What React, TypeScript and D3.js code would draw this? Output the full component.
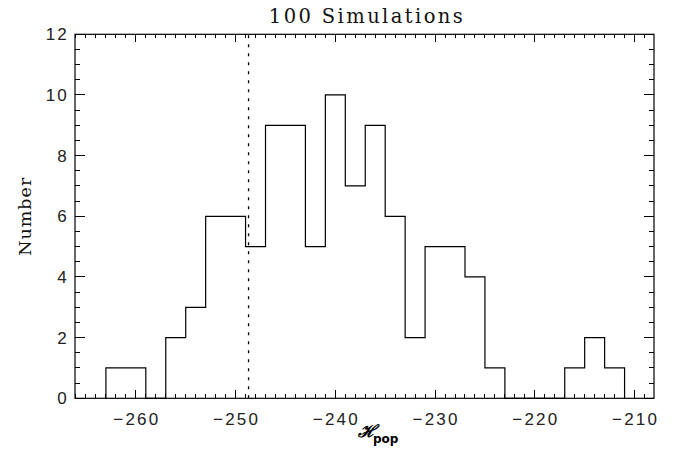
import React from "react";
import * as d3 from "d3";

const binStart = -263;
const binWidth = 2;
const counts = [1, 1, 0, 2, 3, 6, 6, 5, 9, 9, 5, 10, 7, 9, 6, 2, 5, 5, 4, 1, 0, 0, 0, 1, 2, 1];
const xMajorTicks = [-260, -250, -240, -230, -220, -210];
const yMajorTicks = [0, 2, 4, 6, 8, 10, 12];
const refValue = -248.7;
const title = "100 Simulations";
const yTitle = "Number";

const W = 683;
const H = 460;
const L = 75, R = 654, T = 34.3, B = 398.3;

export default function App() {
  const x = d3.scaleLinear().domain([-266.1, -208.05]).range([L, R]);
  const y = d3.scaleLinear().domain([0, 12]).range([B, T]);

  const pts: [number, number][] = [[binStart, 0]];
  counts.forEach((c, i) => {
    const lo = binStart + i * binWidth;
    pts.push([lo, c], [lo + binWidth, c]);
  });
  pts.push([binStart + counts.length * binWidth, 0]);
  const path = d3.line<[number, number]>().x((d) => x(d[0])).y((d) => y(d[1]))(pts) || "";

  const xMinor = d3.range(-266, -208, 1).filter((v) => !xMajorTicks.includes(v));
  const yMinor = d3.range(0, 12.01, 0.5).filter((v) => !yMajorTicks.includes(v));

  const tickStroke = "#000";
  return (
    <svg width={W} height={H} style={{ position: "absolute", left: 0, top: 0, background: "#fff" }}>
      <rect x={0} y={0} width={W} height={H} fill="#fff" />
      <g stroke={tickStroke} strokeWidth={1} shapeRendering="crispEdges">
        {xMinor.map((v) => (
          <g key={"xm" + v}>
            <line x1={x(v)} x2={x(v)} y1={B} y2={B - 4} />
            <line x1={x(v)} x2={x(v)} y1={T} y2={T + 4} />
          </g>
        ))}
        {xMajorTicks.map((v) => (
          <g key={"xM" + v}>
            <line x1={x(v)} x2={x(v)} y1={B} y2={B - 8} />
            <line x1={x(v)} x2={x(v)} y1={T} y2={T + 8} />
          </g>
        ))}
        {yMinor.map((v) => (
          <g key={"ym" + v}>
            <line x1={L} x2={L + 5} y1={y(v)} y2={y(v)} />
            <line x1={R} x2={R - 5} y1={y(v)} y2={y(v)} />
          </g>
        ))}
        {yMajorTicks.map((v) => (
          <g key={"yM" + v}>
            <line x1={L} x2={L + 10} y1={y(v)} y2={y(v)} />
            <line x1={R} x2={R - 10} y1={y(v)} y2={y(v)} />
          </g>
        ))}
      </g>
      <path d={path} fill="none" stroke="#000" strokeWidth={1.2} />
      <line x1={x(refValue)} x2={x(refValue)} y1={y(0)} y2={y(12)} stroke="#000" strokeWidth={1.3} strokeDasharray="3,6" />
      <rect x={L} y={T} width={R - L} height={B - T} fill="none" stroke="#000" strokeWidth={1.2} />
      <g fontFamily="'Liberation Sans', Arial, sans-serif" fontSize={17} fill="#222" letterSpacing={2.2}>
        {xMajorTicks.map((v) => (
          <text key={"xl" + v} x={x(v) + 1} y={425} textAnchor="middle">
            {"\u2212" + Math.abs(v)}
          </text>
        ))}
        {yMajorTicks.map((v) => (
          <text key={"yl" + v} x={69} y={y(v) + 6} textAnchor="end">
            {String(v)}
          </text>
        ))}
      </g>
      <text x={367} y={23} textAnchor="middle" fontFamily="'DejaVu Serif', serif" fontSize={19.5} letterSpacing={2.4} fill="#111">
        {title}
      </text>
      <text
        transform={`translate(31,${(T + B) / 2}) rotate(-90)`}
        textAnchor="middle"
        fontFamily="'DejaVu Serif', serif"
        fontSize={17.5}
        letterSpacing={1}
        fill="#111"
      >
        {yTitle}
      </text>
      <g>
        <text x={358} y={437} fontFamily="'DejaVu Serif', serif" fontStyle="italic" fontWeight="bold" fontSize={17} fill="#000">
          {"\u210B"}
        </text>
        <text x={373} y={443} fontFamily="'DejaVu Sans', sans-serif" fontWeight="bold" fontSize={12} fill="#000">
          pop
        </text>
      </g>
    </svg>
  );
}
